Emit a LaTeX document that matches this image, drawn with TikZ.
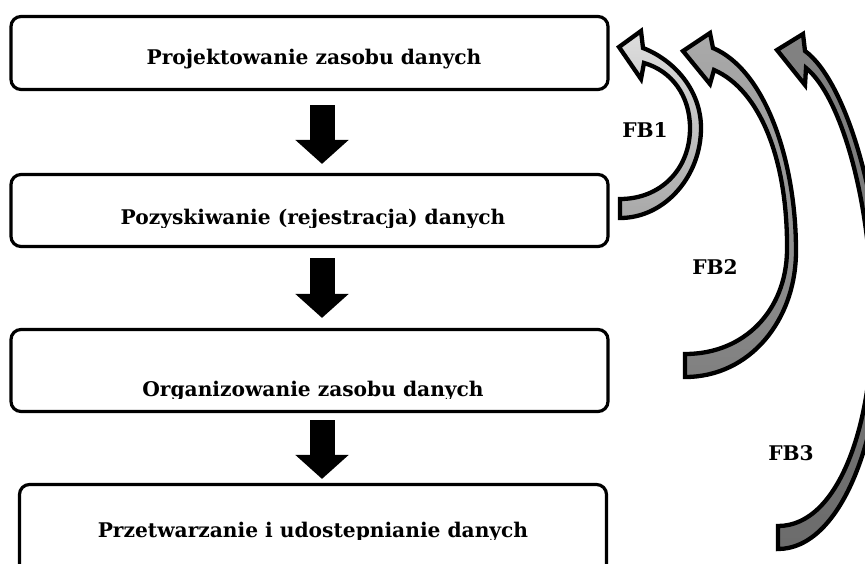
\documentclass[tikz,border=0pt]{standalone}
\usepackage{fontspec}
\setmainfont{DejaVu Serif}
\usetikzlibrary{arrows.meta,calc}
\definecolor{fbonetop}{RGB}{222,222,222}
\definecolor{fbonebot}{RGB}{168,168,168}
\definecolor{fbtwotop}{RGB}{170,170,170}
\definecolor{fbtwobot}{RGB}{128,128,128}
\definecolor{fbthrtop}{RGB}{130,130,130}
\definecolor{fbthrbot}{RGB}{108,108,108}
\newcommand{\stagefont}{\fontsize{20.2}{24}\selectfont\bfseries}
\tikzset{
  stage/.style={draw=black, line width=3.2pt, rounded corners=10pt,
                minimum width=597pt, inner sep=0pt},
  stagetxt/.style={anchor=base, inner sep=0pt, font=\stagefont},
  downarr/.style={line width=25pt, -{Triangle[length=24pt,width=52pt]}},
  fbarr/.style={draw=black, line width=4.3pt, line join=miter},
  fblab/.style={inner sep=0pt, font=\stagefont},
}
\begin{document}
\begin{tikzpicture}[x=1pt,y=-1pt]
  \useasboundingbox (0,0) rectangle (865,563);
  \clip (0,0) rectangle (865,563);
  % stages
  \node[stage, minimum height=73pt] (b1) at (309.5,53) {};
  \node[stage, minimum height=72pt] (b2) at (309.5,210.5) {};
  \node[stage, minimum height=82pt] (b3) at (309.5,370.5) {};
  \node[stage, minimum height=110pt, minimum width=587pt] (b4) at (313,539.5) {};
  \node[stagetxt] (t1) at (314,64) {Projektowanie zasobu danych};
  \foreach \n/\y/\c/\s in {2/224/227/{Pozyskiwanie (rejestracja) danych},
                           3/396/398/{Organizowanie zasobu danych},
                           4/537/539/{Przetwarzanie i udostepnianie danych}}{
    \begin{scope}
      \clip (0,\c-60) rectangle (609,\c);
      \node[stagetxt] (t\n) at (313,\y) {\s};
    \end{scope}
  }
  % down arrows
  \coordinate (ax) at (322,0);
  \draw[downarr] ($(b1.south -| ax)+(0,14)$) -- ($(b2.north -| ax)+(0,-9)$);
  \draw[downarr] ($(b2.south -| ax)+(0,10)$) -- ($(b3.north -| ax)+(0,-10)$);
  \draw[downarr] ($(b3.south -| ax)+(0,7)$) -- ($(b4.north -| ax)+(0,-4)$);
  % feedback arrows
  \shadedraw[fbarr, top color=fbonetop, bottom color=fbonebot]
    (619,47) -- (641,31) -- (643,48)
    .. controls (674,60) and (701,90) .. (701,128)
    .. controls (701,176) and (665,218) .. (620,218) -- (620,199)
    .. controls (660,199) and (690,170) .. (690,128)
    .. controls (690,96) and (672,71) .. (644,63) -- (641,79) -- cycle;
  \shadedraw[fbarr, top color=fbtwotop, bottom color=fbtwobot]
    (683,51) -- (710,33) -- (713,48)
    .. controls (765,70) and (796,160) .. (796,251)
    .. controls (796,320) and (750,377) .. (685,377) -- (685,354)
    .. controls (745,354) and (786,310) .. (787,251)
    .. controls (788,160) and (760,90) .. (714,70) -- (710,84) -- cycle;
  \shadedraw[fbarr, top color=fbthrtop, bottom color=fbthrbot]
    (777,50) -- (803,34) -- (805,51)
    .. controls (845,80) and (882,200) .. (882,320)
    .. controls (882,440) and (840,549) .. (778,549) -- (778,526)
    .. controls (840,526) and (873,420) .. (872,320)
    .. controls (872,200) and (840,95) .. (806,68) -- (805,85) -- cycle;
  \node[fblab] (l1) at (645,130) {FB1};
  \node[fblab] (l2) at (715,267) {FB2};
  \node[fblab] (l3) at (791,453) {FB3};
\end{tikzpicture}
\end{document}
